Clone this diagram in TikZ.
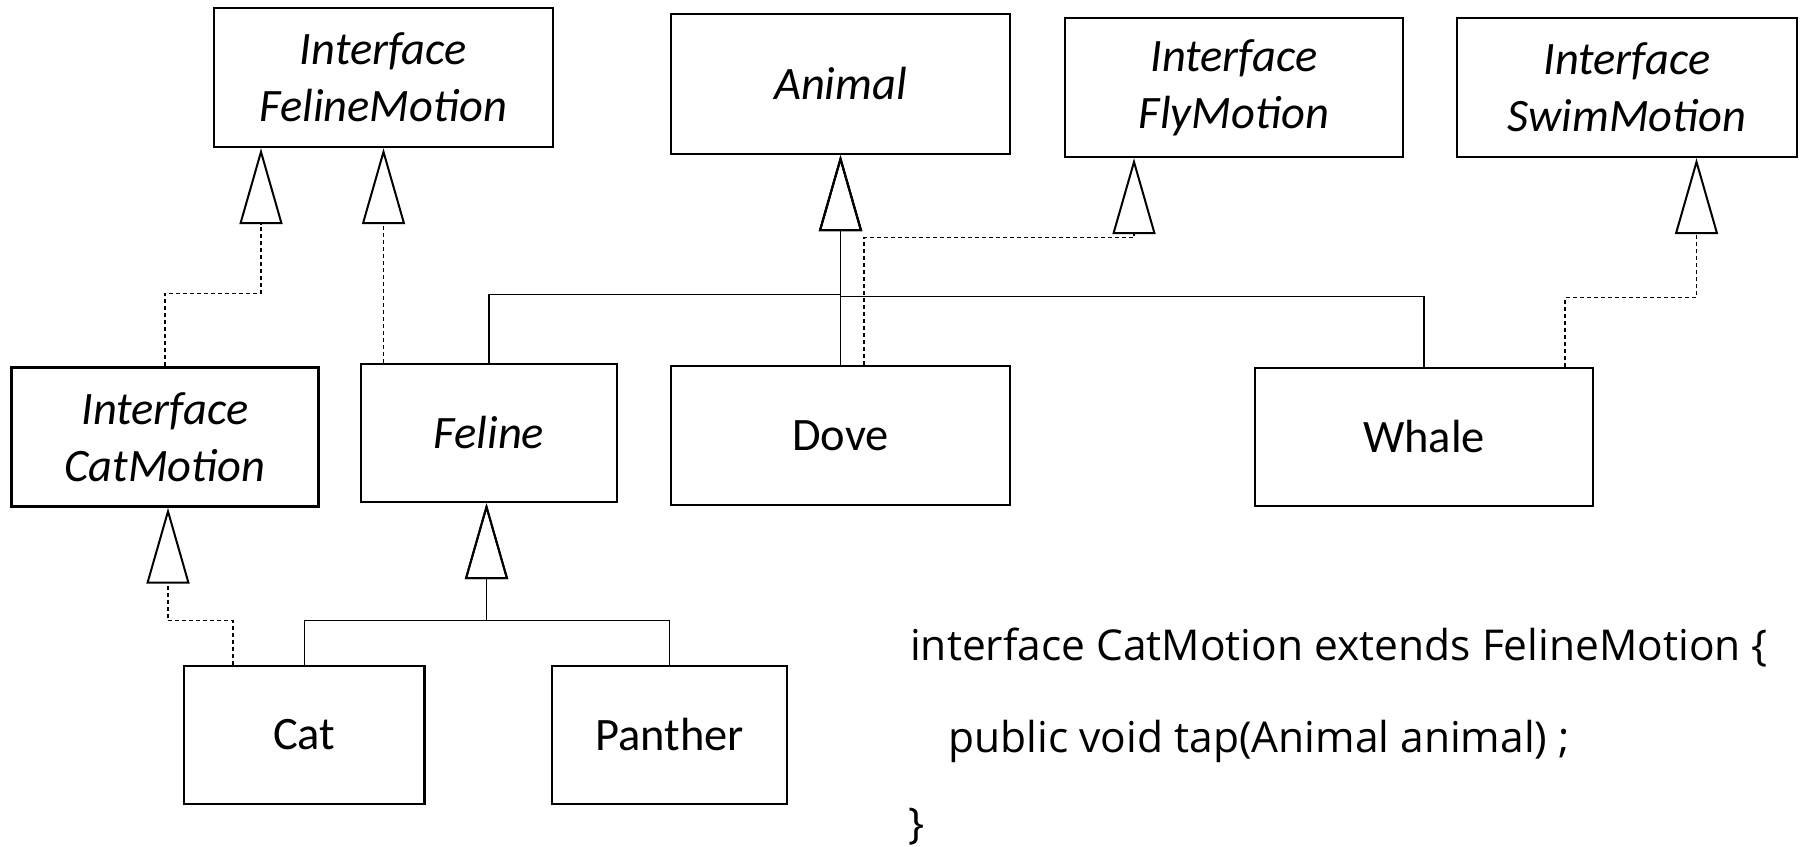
\documentclass[tikz,border=0pt]{standalone}
\usepackage{fontspec}
\setmainfont{Carlito}
\newfontfamily\codefont{Open Sans}
\usetikzlibrary{arrows.meta}
\tikzset{
  uml/.tip={Triangle[open,length=76pt,width=43pt,line width=2pt]},
  box/.style={draw, line width=2.4pt, inner sep=0pt, align=center,
    font=\fontsize{46.5}{57}\selectfont},
  abox/.style={box, font=\fontsize{46.5}{57}\selectfont\itshape},
  inherit/.style={line width=1.2pt, -uml},
  impl/.style={inherit, dash pattern=on 4pt off 3pt},
  code/.style={inner sep=0pt, anchor=base west, font=\codefont\fontsize{42.5}{50}\selectfont}
}
\begin{document}
\begin{tikzpicture}[x=1pt,y=-1pt]
\useasboundingbox (0,0) rectangle (1803,846);
% top row
\node[abox, minimum width=339pt, minimum height=139pt] (fm) at (383.5,77.5) {Interface\\FelineMotion};
\node[abox, minimum width=339pt, minimum height=140pt] (animal) at (840.5,84) {Animal};
\node[abox, minimum width=338pt, minimum height=139pt] (fly) at (1234,87.5) {Interface\\FlyMotion};
\node[abox, minimum width=340pt, minimum height=139pt] (swim) at (1627,87.5) {Interface\\SwimMotion};
% middle row
\node[abox, minimum width=307pt, minimum height=139pt] (catm) at (165,437) {Interface\\CatMotion};
\node[abox, minimum width=256pt, minimum height=138pt] (feline) at (489,433) {Feline};
\node[box, minimum width=339pt, minimum height=139pt] (dove) at (840.5,435.5) {Dove};
\node[box, minimum width=338pt, minimum height=138pt] (whale) at (1424,437) {Whale};
% bottom row
\node[box, minimum width=240.7pt, minimum height=138pt] (cat) at (304.3,735) {Cat};
\node[box, minimum width=235pt, minimum height=138pt] (panther) at (669.5,735) {Panther};
% code
\node[code] (c1) at (910,660) {interface CatMotion extends FelineMotion \{};
\node[code] (c2) at (948.5,752) {public void tap(Animal animal) ;};
\node[code] (c3) at (908,838) {\}};
% connectors
\draw[impl] ([xshift=-105.5pt]feline.north) -- (fm.south);
\draw[impl] (catm.north) -- ++(0,-73) -| ([xshift=-122.5pt]fm.south);
\draw[impl] ([xshift=-71.3pt]cat.north) -- ++(0,-44) -| ([xshift=3pt]catm.south);
\draw[inherit] (cat.north) -- ++(0,-44) -| ([xshift=-2.5pt]feline.south);
\draw[inherit] (panther.north) -- ++(0,-44) -| ([xshift=-2.5pt]feline.south);
\draw[inherit] (feline.north) -- ++(0,-68) -| (animal.south);
\draw[inherit] (dove.north) -- (animal.south);
\draw[inherit] (whale.north) -- ++(0,-70) -| (animal.south);
\draw[impl] ([xshift=23.5pt]dove.north) -- ++(0,-127) -| ([xshift=-100pt]fly.south);
\draw[impl] ([xshift=141pt]whale.north) -- ++(0,-69) -| ([xshift=69.5pt]swim.south);
\end{tikzpicture}
\end{document}
